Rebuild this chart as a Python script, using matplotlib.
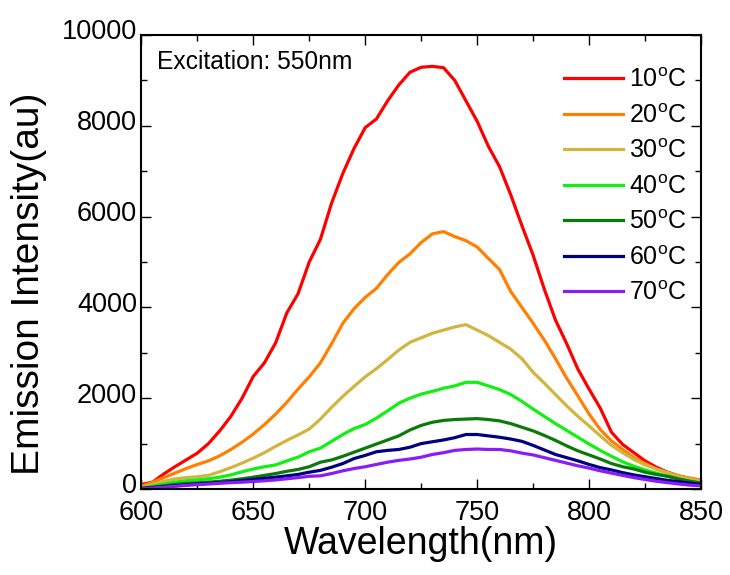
import matplotlib
matplotlib.use("Agg")
import matplotlib.pyplot as plt
import matplotlib.transforms as mtransforms
from matplotlib.ticker import MultipleLocator

plt.rcParams.update({
    "font.family": ["Liberation Sans", "DejaVu Sans"],
    "mathtext.fontset": "custom",
    "mathtext.rm": "Liberation Sans",
    "mathtext.it": "Liberation Sans:italic",
    "mathtext.bf": "Liberation Sans:bold",
})

# wavelength grid (nm) shared by all spectra
wavelength = list(range(600, 851, 5))

temps = ["10", "20", "30", "40", "50", "60", "70"]

i_10 = [100, 150, 330, 490, 640, 790, 1000, 1280, 1600, 2000, 2480, 2780, 3220,
        3880, 4300, 5000, 5500, 6300, 6950, 7500, 7960, 8150, 8550, 8900, 9180,
        9290, 9310, 9280, 9000, 8550, 8100, 7550, 7100, 6480, 5800, 5150, 4400,
        3720, 3200, 2640, 2200, 1780, 1250, 980, 800, 620, 480, 370, 290, 230, 170]
i_20 = [60, 150, 250, 350, 450, 540, 620, 730, 870, 1030, 1210, 1420, 1650,
        1910, 2200, 2470, 2780, 3200, 3650, 3970, 4220, 4420, 4720, 4990, 5180,
        5430, 5620, 5670, 5560, 5470, 5330, 5080, 4835, 4350, 4000, 3650, 3280,
        2870, 2440, 2050, 1650, 1310, 1060, 870, 690, 560, 440, 360, 290, 240, 200]
i_30 = [30, 100, 170, 220, 250, 270, 300, 380, 470, 570, 680, 800, 940, 1070,
        1190, 1320, 1540, 1800, 2040, 2260, 2470, 2650, 2850, 3060, 3230, 3330,
        3430, 3500, 3570, 3620, 3500, 3380, 3230, 3080, 2870, 2570, 2330, 2080,
        1830, 1600, 1390, 1170, 960, 800, 650, 530, 440, 360, 280, 220, 170]
i_40 = [20, 60, 110, 150, 180, 200, 225, 260, 310, 380, 440, 490, 530, 620, 700,
        820, 900, 1050, 1200, 1330, 1420, 1560, 1720, 1890, 2000, 2090, 2150,
        2220, 2270, 2350, 2350, 2270, 2190, 2080, 1930, 1760, 1600, 1440, 1290,
        1140, 990, 850, 720, 600, 500, 420, 350, 280, 220, 170, 130]
i_50 = [10, 40, 70, 100, 120, 135, 150, 170, 195, 225, 260, 300, 340, 390, 430,
        490, 590, 640, 720, 810, 900, 990, 1080, 1170, 1300, 1400, 1470, 1510,
        1530, 1540, 1550, 1530, 1500, 1440, 1360, 1280, 1180, 1070, 950, 840,
        750, 660, 560, 490, 440, 370, 320, 280, 220, 170, 130]
i_60 = [10, 30, 50, 70, 90, 110, 125, 140, 160, 185, 210, 235, 260, 290, 320,
        370, 410, 480, 560, 670, 740, 820, 850, 870, 920, 1000, 1040, 1080, 1130,
        1200, 1200, 1170, 1140, 1100, 1050, 960, 860, 760, 690, 620, 540, 470,
        420, 360, 310, 270, 230, 190, 160, 130, 100]
i_70 = [0, 20, 40, 60, 80, 95, 110, 125, 140, 150, 165, 180, 200, 225, 250, 280,
        290, 340, 400, 450, 490, 540, 590, 630, 660, 700, 760, 800, 850, 870, 880,
        870, 870, 840, 790, 750, 690, 630, 570, 510, 460, 400, 350, 300, 250, 210,
        170, 140, 110, 85, 70]

series = [i_10, i_20, i_30, i_40, i_50, i_60, i_70]
colors = ["#ff0000", "#ff8000", "#d2b540", "#11f011", "#0a7a0a", "#000080", "#8a1cf5"]

fig = plt.figure(figsize=(7.3, 5.75), dpi=100)
ax = fig.add_axes([0.1936, 0.1496, 0.7667, 0.7895])

for t, y, c in zip(temps, series, colors):
    ax.plot(wavelength, y, color=c, lw=2.3, label=t + r"$^{\mathrm{o}}$C")

ax.set_xlim(600, 850)
ax.set_ylim(0, 10000)
ax.xaxis.set_major_locator(MultipleLocator(50))
ax.xaxis.set_minor_locator(MultipleLocator(25))
ax.yaxis.set_major_locator(MultipleLocator(2000))
ax.yaxis.set_minor_locator(MultipleLocator(1000))
ax.tick_params(which="both", direction="in", top=True, right=True, width=1.0,
               labelsize=19.5)
ax.tick_params(axis="x", pad=8)
ax.tick_params(axis="y", pad=3)
ax.tick_params(which="major", length=7)
ax.tick_params(which="minor", length=4.5)
for s in ax.spines.values():
    s.set_linewidth(1.5)

# y tick labels sit a few pixels above their ticks in the original
lift = mtransforms.ScaledTranslation(0, 4 / 72, fig.dpi_scale_trans)
for lbl in ax.get_yticklabels():
    lbl.set_transform(lbl.get_transform() + lift)

ax.set_xlabel("Wavelength(nm)", fontsize=27, labelpad=0)
ax.set_ylabel("Emission Intensity(au)", fontsize=28)
ax.yaxis.set_label_coords(-0.169, 0.452)

ax.text(0.028, 0.925, "Excitation: 550nm", transform=ax.transAxes,
        fontsize=17.7, va="baseline", ha="left")

ax.legend(loc="upper left", bbox_to_anchor=(0.756, 0.927), frameon=False,
          fontsize=18, handlelength=2.35, handletextpad=0.25,
          labelspacing=0.46, borderpad=0, borderaxespad=0)

fig.savefig("out.png", dpi=100)
